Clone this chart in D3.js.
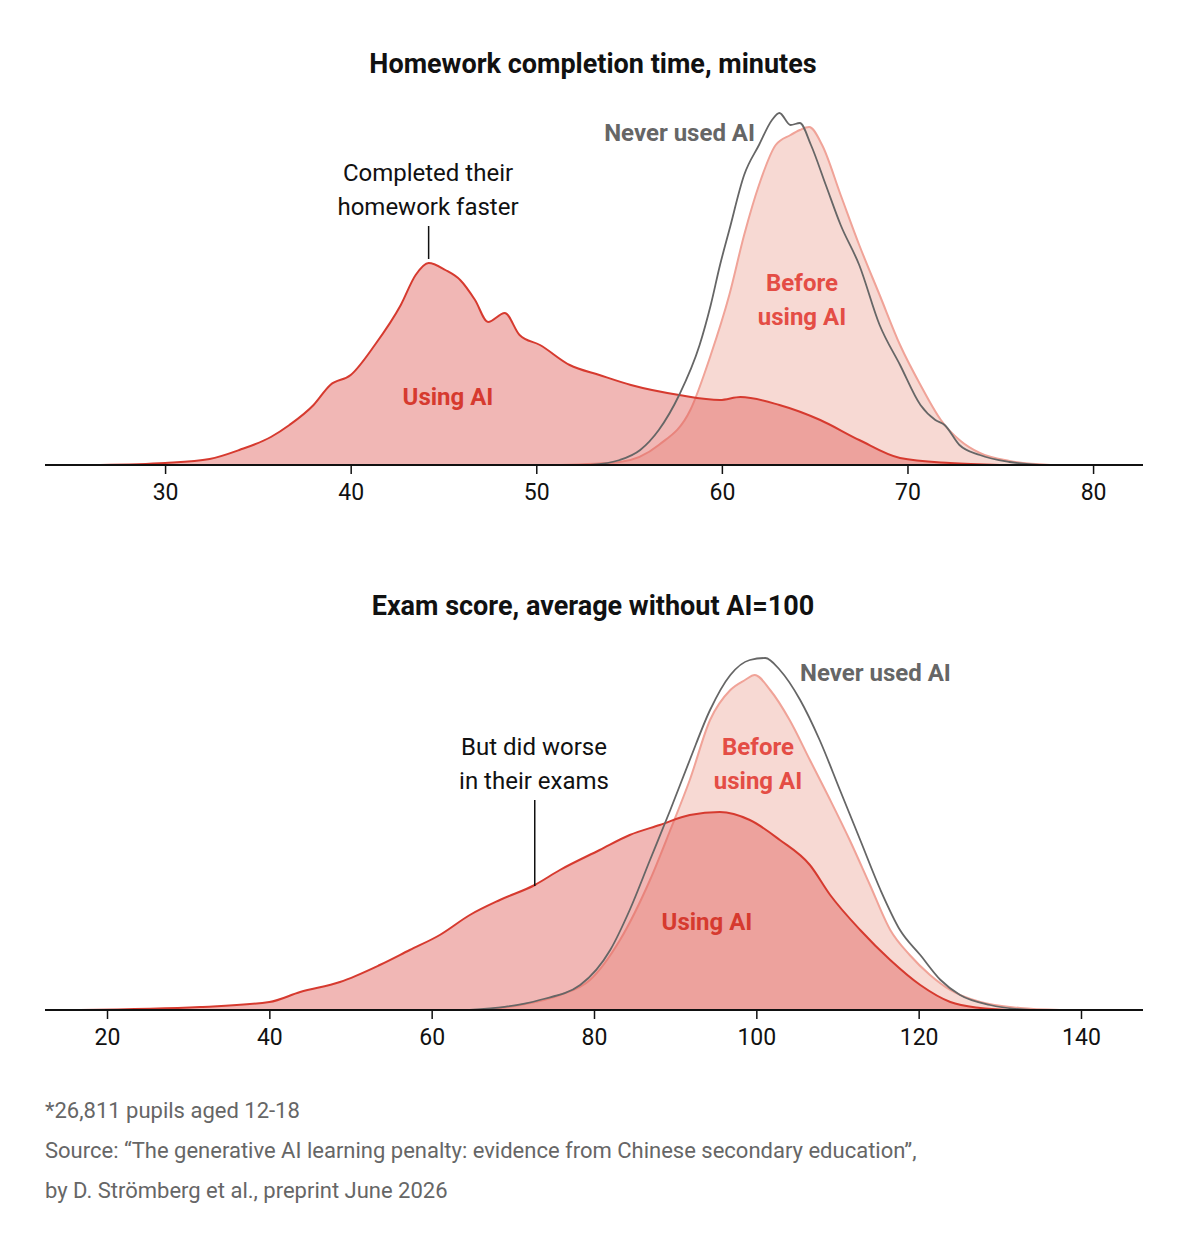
<!DOCTYPE html>
<html>
<head>
<meta charset="utf-8">
<script src="https://cdn.jsdelivr.net/npm/d3@7"></script>
<style>
  body { margin: 0; background: #fff; }
  text { font-family: Roboto, "Noto Sans", sans-serif; }
</style>
</head>
<body>
<svg id="chart" width="1200" height="1246"></svg>
<script>
// ---- data: [value, relative density] ----
const hwUsing = [[26.5,0],[30,2],[32.4,6],[34,15],[35.7,28],[36.7,40],[38,60],[38.9,80],[40,90],[41.3,120],[42.7,160],[43.5,190],[44.2,202],[45.1,195],[45.9,185],[46.7,165],[47.4,143],[48.3,152],[49.1,130],[50.2,120],[51.8,100],[53.4,90],[55.1,80],[57.7,70],[59.9,65],[61,68],[63.1,60],[65.3,45],[67.4,25],[69.6,7],[72.3,2],[75,0]];
const hwBefore = [[51.3,0],[54.5,3],[56.6,20],[58.3,55],[59.4,110],[60.4,170],[61.2,230],[62,280],[62.9,320],[63.7,330],[64.2,335],[64.7,338],[65.4,320],[66.4,270],[67.4,220],[68.5,170],[69.6,120],[70.7,80],[71.8,45],[72.8,25],[73.9,12],[75.5,4],[77.7,0]];
const hwNever = [[52.9,0],[54.5,5],[55.6,15],[56.6,35],[57.7,70],[58.8,120],[59.4,160],[59.9,200],[60.4,235],[61.2,290],[62,320],[62.7,345],[63.1,352],[63.7,340],[64.2,342],[64.8,320],[65.6,280],[66.4,240],[67.4,200],[68.5,140],[69.6,100],[70.7,60],[71.5,45],[72,40],[72.8,20],[73.9,10],[75.5,3],[77.1,0]];
const hwTicks = [30, 40, 50, 60, 70, 80];

const exUsing = [[16.7,0],[31.5,3],[40,8],[43.8,18],[48.7,28],[53.6,45],[57.3,60],[61,75],[64.7,95],[68.4,110],[72.7,125],[75.8,140],[80.7,160],[84.4,175],[88.1,185],[91.8,195],[95.5,198],[99.2,190],[102.9,170],[106.6,145],[109.1,115],[112.8,80],[116.5,50],[120.2,25],[123.9,8],[127.6,2],[131,0]];
const exBefore = [[66,0],[70.9,5],[75.8,15],[79.5,30],[83.2,70],[86.9,130],[89.4,180],[91.8,230],[94.3,290],[96.8,320],[98.6,330],[99.8,335],[101.7,320],[104.1,290],[106.6,250],[109.1,210],[111.5,170],[114,125],[116.5,80],[118.9,55],[121.4,35],[123.9,20],[127.6,8],[132.5,2],[137.4,0]];
const exNever = [[64.7,0],[73.3,10],[78.3,25],[82,60],[84.4,100],[86.9,150],[89.4,200],[91.8,250],[94.3,300],[96.8,335],[99.2,350],[101.1,352],[102.9,340],[105.4,310],[107.8,270],[110.3,220],[112.8,170],[115.3,120],[117.7,80],[120.2,55],[122.7,30],[125.1,15],[128.8,5],[133.8,0]];
const exTicks = [20, 40, 60, 80, 100, 120, 140];

const svg = d3.select("#chart");
const left = 45, right = 1143;

function panel(cfg) {
  const x = d3.scaleLinear().domain(cfg.xDomain).range([left, right]);
  const y = d3.scaleLinear().domain([0, 360]).range([cfg.base, cfg.base - 360]);
  const area = d3.area().x(d => x(d[0])).y0(cfg.base).y1(d => y(d[1])).curve(d3.curveMonotoneX);
  const line = d3.line().x(d => x(d[0])).y(d => y(d[1])).curve(d3.curveMonotoneX);
  const g = svg.append("g");

  g.append("text").attr("x", 593).attr("y", cfg.titleY).attr("text-anchor", "middle")
    .attr("font-size", 27).attr("font-weight", 700).attr("fill", "#111").text(cfg.title);

  g.append("path").datum(cfg.before).attr("d", area).attr("fill", "#f7d9d3");
  g.append("path").datum(cfg.before).attr("d", line).attr("fill", "none").attr("stroke", "#f0a398").attr("stroke-width", 2);
  g.append("path").datum(cfg.using).attr("d", area).attr("fill", "#e0605a").attr("fill-opacity", 0.45);
  g.append("path").datum(cfg.using).attr("d", line).attr("fill", "none").attr("stroke", "#d63a2f").attr("stroke-width", 2);
  g.append("path").datum(cfg.never).attr("d", line).attr("fill", "none").attr("stroke", "#666").attr("stroke-width", 1.8);

  const ax = g.append("g").attr("transform", `translate(0,${cfg.base})`)
    .call(d3.axisBottom(x).tickValues(cfg.ticks).tickSize(9).tickPadding(10));
  ax.select(".domain").remove();
  ax.selectAll(".tick line").attr("stroke", "#111").attr("stroke-width", 1.5);
  ax.selectAll(".tick text").attr("font-size", 23).attr("fill", "#111").attr("font-family", "Roboto, sans-serif");
  g.append("line").attr("x1", left).attr("x2", right).attr("y1", cfg.base).attr("y2", cfg.base)
    .attr("stroke", "#111").attr("stroke-width", 1.8);

  cfg.labels.forEach(l => {
    const t = g.append("text").attr("x", l.x).attr("y", l.y).attr("text-anchor", l.anchor || "middle")
      .attr("font-size", 24).attr("font-weight", l.bold ? 700 : 400).attr("fill", l.color);
    l.lines.forEach((s, i) => t.append("tspan").attr("x", l.x).attr("dy", i ? 34 : 0).text(s));
  });
  g.append("line").attr("x1", x(cfg.note[0])).attr("x2", x(cfg.note[0]))
    .attr("y1", cfg.note[1]).attr("y2", cfg.note[2]).attr("stroke", "#111").attr("stroke-width", 1.5);
}

panel({
  title: "Homework completion time, minutes", titleY: 73, base: 465,
  xDomain: [23.53, 82.69], ticks: hwTicks,
  using: hwUsing, before: hwBefore, never: hwNever,
  note: [44.2, 226, 259],
  labels: [
    { x: 755, y: 141, anchor: "end", bold: true, color: "#666", lines: ["Never used AI"] },
    { x: 802, y: 291, bold: true, color: "#e44d45", lines: ["Before", "using AI"] },
    { x: 448, y: 405, bold: true, color: "#d63a2f", lines: ["Using AI"] },
    { x: 428, y: 181, color: "#111", lines: ["Completed their", "homework faster"] }
  ]
});

panel({
  title: "Exam score, average without AI=100", titleY: 615, base: 1010,
  xDomain: [12.36, 147.64], ticks: exTicks,
  using: exUsing, before: exBefore, never: exNever,
  note: [72.7, 800, 886],
  labels: [
    { x: 800, y: 681, anchor: "start", bold: true, color: "#666", lines: ["Never used AI"] },
    { x: 758, y: 755, bold: true, color: "#e44d45", lines: ["Before", "using AI"] },
    { x: 707, y: 930, bold: true, color: "#d63a2f", lines: ["Using AI"] },
    { x: 534, y: 755, color: "#111", lines: ["But did worse", "in their exams"] }
  ]
});

const foot = ["*26,811 pupils aged 12-18",
  "Source: \u201cThe generative AI learning penalty: evidence from Chinese secondary education\u201d,",
  "by D. Str\u00f6mberg et al., preprint June 2026"];
svg.selectAll(".foot").data(foot).enter().append("text")
  .attr("x", left).attr("y", (d, i) => 1118 + i * 40)
  .attr("font-size", 22).attr("fill", "#666").text(d => d);
</script>
</body>
</html>
